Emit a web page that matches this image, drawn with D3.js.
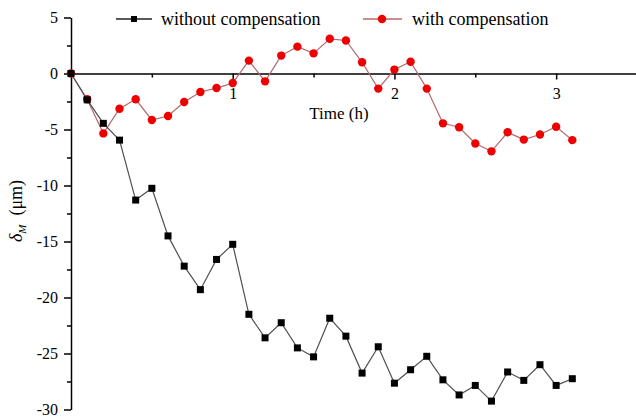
<!DOCTYPE html>
<html>
<head>
<meta charset="utf-8">
<script src="https://cdn.jsdelivr.net/npm/d3@7"></script>
<style>
  body { margin: 0; background: #fff; }
  svg text { font-family: "Liberation Serif", serif; }
</style>
</head>
<body>
<div id="chart"></div>
<script>
const WIDTH = 636;
const HEIGHT = 419;

// time in hours
const times = [0, 0.1, 0.2, 0.3, 0.4, 0.5, 0.6, 0.7, 0.8, 0.9, 1.0, 1.1, 1.2, 1.3, 1.4, 1.5,
  1.6, 1.7, 1.8, 1.9, 2.0, 2.1, 2.2, 2.3, 2.4, 2.5, 2.6, 2.7, 2.8, 2.9, 3.0, 3.1];

const withoutComp = [0, -2.35, -4.45, -5.95, -11.3, -10.25, -14.5, -17.2, -19.3, -16.6, -15.25,
  -21.5, -23.6, -22.25, -24.5, -25.3, -21.85, -23.45, -26.75, -24.4, -27.65, -26.45, -25.25,
  -27.35, -28.7, -27.85, -29.25, -26.65, -27.4, -26.0, -27.85, -27.25];

const withComp = [0, -2.3, -5.35, -3.15, -2.3, -4.15, -3.8, -2.55, -1.65, -1.3, -0.85,
  1.15, -0.7, 1.6, 2.4, 1.8, 3.1, 2.95, 1.0, -1.35, 0.35, 1.05, -1.35, -4.45, -4.8, -6.25,
  -6.95, -5.25, -5.9, -5.45, -4.75, -5.95];

const xTicks = [1, 2, 3];
const xMinor = [0.5, 1.5, 2.5];
const yTicks = [5, 0, -5, -10, -15, -20, -25, -30];
const yMinor = [2.5, -2.5, -7.5, -12.5, -17.5, -22.5, -27.5];

const seriesNames = ["without compensation", "with compensation"];

const SERIF = "Liberation Serif";

function main(){
    let svg = d3.select("#chart")
        .append("svg")
        .attr("width",WIDTH)
        .attr("height",HEIGHT);

    let x = d3.scaleLinear().domain([0,3.5]).range([71,637]);
    let y = d3.scaleLinear().domain([5,-30]).range([17.5,409.5]);

    // y axis (left)
    let yAxis = d3.axisLeft(y).tickValues(yTicks).tickSize(7).tickSizeOuter(0)
        .tickFormat(d => d);
    let gy = svg.append("g")
        .attr("transform","translate("+x(0)+",0)")
        .attr("font-family",SERIF)
        .call(yAxis);
    gy.select(".domain").attr("stroke","#000").attr("stroke-width",1.5);
    gy.selectAll(".tick line").attr("stroke-width",1.5);
    gy.selectAll(".tick text")
        .attr("x",-13)
        .attr("font-family",SERIF)
        .style("font-size","16px");
    let yMinorAxis = d3.axisLeft(y).tickValues(yMinor).tickSize(4).tickFormat("");
    let gym = svg.append("g").attr("transform","translate("+x(0)+",0)").call(yMinorAxis);
    gym.select(".domain").remove();
    gym.selectAll(".tick line").attr("stroke-width",1.5);

    // x axis through y = 0
    let xAxis = d3.axisBottom(x).tickValues(xTicks).tickSize(6).tickSizeOuter(0)
        .tickFormat(d => d);
    let gx = svg.append("g")
        .attr("transform","translate(0,"+y(0)+")")
        .attr("font-family",SERIF)
        .call(xAxis);
    gx.select(".domain").attr("stroke-width",1.5);
    gx.selectAll(".tick line").attr("stroke-width",1.5);
    gx.selectAll(".tick text")
        .attr("y",14)
        .attr("font-family",SERIF)
        .style("font-size","16px");
    let xMinorAxis = d3.axisBottom(x).tickValues(xMinor).tickSize(4).tickFormat("");
    let gxm = svg.append("g").attr("transform","translate(0,"+y(0)+")").call(xMinorAxis);
    gxm.select(".domain").remove();
    gxm.selectAll(".tick line").attr("stroke-width",1.5);

    // axis titles
    svg.append("text")
        .attr("x",339)
        .attr("y",119)
        .attr("text-anchor","middle")
        .attr("font-family",SERIF)
        .style("font-size","17px")
        .text("Time (h)");

    let yl = svg.append("text")
        .attr("transform","translate(22,211) rotate(-90)")
        .attr("text-anchor","middle")
        .attr("font-family",SERIF)
        .style("font-size","18px");
    yl.append("tspan").style("font-style","italic").text("δ");
    yl.append("tspan").style("font-style","italic").style("font-size","11px").attr("dy",4).text("M");
    yl.append("tspan").attr("dy",-4).text("\u00a0 (μm)");

    let line = d3.line().x((d,i) => x(times[i])).y(d => y(d));

    // with compensation (drawn first, black on top where they overlap)
    svg.append("path")
        .datum(withComp)
        .attr("d",line)
        .attr("fill","none")
        .attr("stroke","#b46a6a")
        .attr("stroke-width",1.2);
    svg.selectAll(".dotR")
        .data(withComp)
        .enter()
        .append("circle")
        .attr("class","dotR")
        .attr("cx",(d,i) => x(times[i]))
        .attr("cy",d => y(d))
        .attr("r",4.2)
        .attr("fill","#ee0000");

    svg.append("path")
        .datum(withoutComp)
        .attr("d",line)
        .attr("fill","none")
        .attr("stroke","#505050")
        .attr("stroke-width",1.2);
    svg.selectAll(".sqB")
        .data(withoutComp)
        .enter()
        .append("rect")
        .attr("class","sqB")
        .attr("x",(d,i) => x(times[i]) - 3.5)
        .attr("y",d => y(d) - 3.5)
        .attr("width",7)
        .attr("height",7)
        .attr("fill","#000");

    // legend
    let leg = svg.append("g").attr("font-family",SERIF);
    leg.append("line").attr("x1",116).attr("x2",152).attr("y1",19).attr("y2",19)
        .attr("stroke","#222").attr("stroke-width",1.5);
    leg.append("rect").attr("x",131).attr("y",16).attr("width",6).attr("height",6).attr("fill","#000");
    leg.append("text").attr("x",161).attr("y",25).style("font-size","18px").text(seriesNames[0]);

    leg.append("line").attr("x1",363).attr("x2",402).attr("y1",19).attr("y2",19)
        .attr("stroke","#b46a6a").attr("stroke-width",1.5);
    leg.append("circle").attr("cx",382).attr("cy",19).attr("r",4.2).attr("fill","#ee0000");
    leg.append("text").attr("x",412).attr("y",25).style("font-size","18px").text(seriesNames[1]);
}

main();
</script>
</body>
</html>
